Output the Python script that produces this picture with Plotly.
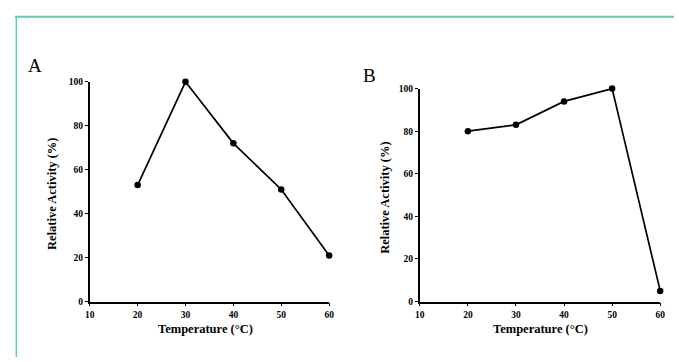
import plotly.graph_objects as go

temps = [20, 30, 40, 50, 60]
activity_a = [53, 100, 72, 51, 21]
activity_b = [80, 83, 94, 100, 5]
x_ticks = [10, 20, 30, 40, 50, 60]
y_ticks = [0, 20, 40, 60, 80, 100]
panel_labels = ["A", "B"]
x_title = "Temperature (°C)"
y_title = "Relative Activity (%)"

W, H = 679, 362
def fx(px): return px / W
def fy(py): return 1 - py / H

FONT = "Liberation Serif"
fig = go.Figure()
for i, vals in enumerate([activity_a, activity_b]):
    n = "" if i == 0 else "2"
    fig.add_trace(go.Scatter(x=temps, y=vals, mode="lines+markers",
                             line=dict(color="black", width=1.7),
                             marker=dict(color="black", size=6.5),
                             cliponaxis=False, showlegend=False,
                             xaxis="x" + n, yaxis="y" + n))

axis_common = dict(showgrid=False, zeroline=False, showline=True, linecolor="black",
                   linewidth=1.7, ticks="outside", ticklen=3, tickwidth=1.3,
                   tickcolor="black",
                   tickfont=dict(family=FONT, size=9.5, color="black", weight="bold"))

fig.update_layout(
    width=W, height=H, margin=dict(l=0, r=0, t=0, b=0),
    paper_bgcolor="white", plot_bgcolor="white",
    xaxis=dict(domain=[fx(86), fx(329)], range=[10, 60], tickvals=x_ticks, anchor="y", **axis_common),
    yaxis=dict(domain=[fy(305), fy(79)], range=[0, 100], tickvals=y_ticks, anchor="x", **axis_common),
    xaxis2=dict(domain=[fx(421), fx(665)], range=[10, 60], tickvals=x_ticks, anchor="y2", **axis_common),
    yaxis2=dict(domain=[fy(305), fy(86)], range=[0, 100], tickvals=y_ticks, anchor="x2", **axis_common),
)

ann = []
title_font = dict(family=FONT, size=12.5, color="black", weight="bold")
def add(x, y, text, font, angle=0):
    ann.append(dict(x=fx(x), y=fy(y), text=text, showarrow=False, xref="paper", yref="paper",
                    xanchor="center", yanchor="middle", textangle=angle, font=font))
# panel A
add(30, 62, panel_labels[0], dict(family=FONT, size=19, color="black"))
add(203, 333, x_title, title_font)
add(47, 194, y_title, title_font, -90)
# panel B
add(370, 72, panel_labels[1], dict(family=FONT, size=19, color="black"))
add(543, 333, x_title, title_font)
add(385, 198, y_title, title_font, -90)
fig.update_layout(annotations=ann)

teal = "#5CCBB6"
fig.update_layout(shapes=[
    dict(type="line", xref="paper", yref="paper", x0=fx(10), x1=1, y0=fy(12), y1=fy(12),
         line=dict(color=teal, width=2)),
    dict(type="line", xref="paper", yref="paper", x0=fx(11.5), x1=fx(11.5), y0=fy(11), y1=0,
         line=dict(color=teal, width=1.5)),
])

fig.write_html("out.html", config={"displayModeBar": False},
               post_script="document.body.style.margin='0';document.body.style.overflow='hidden';")
